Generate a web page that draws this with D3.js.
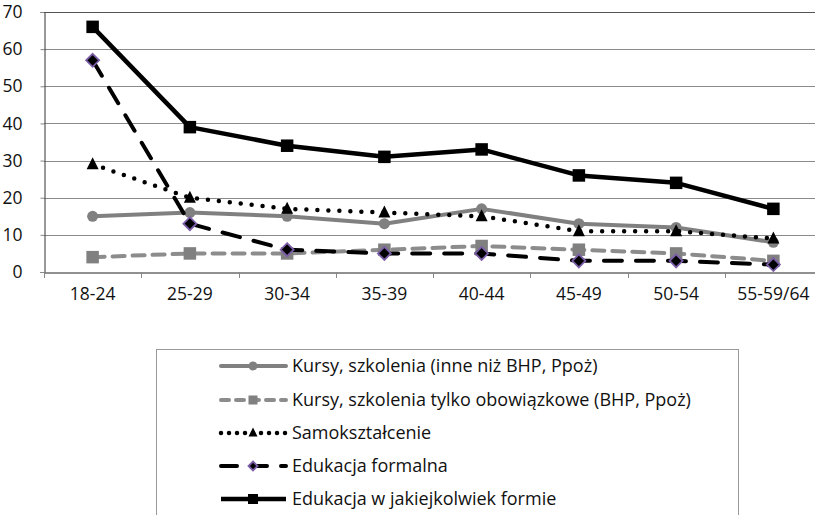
<!DOCTYPE html>
<html><head><meta charset="utf-8">
<script src="https://cdn.jsdelivr.net/npm/d3@7"></script>
<style>body{margin:0;background:#fff}svg{display:block;font-family:"Open Sans",sans-serif}</style>
</head><body>
<script>
const categories = ["18-24","25-29","30-34","35-39","40-44","45-49","50-54","55-59/64"];
const yTicks = [0,10,20,30,40,50,60,70];
const kursyInne = [15,16,15,13,17,13,12,8];
const kursyObow = [4,5,5,6,7,6,5,3];
const samoksztalcenie = [29,20,17,16,15,11,11,9];
const edukacjaFormalna = [57,13,6,5,5,3,3,2];
const edukacjaDowolna = [66,39,34,31,33,26,24,17];
const seriesNames = ["Kursy, szkolenia (inne niż BHP, Ppoż)","Kursy, szkolenia tylko obowiązkowe (BHP, Ppoż)","Samokształcenie","Edukacja formalna","Edukacja w jakiejkolwiek formie"];

(function(){
const series = [
  {name:seriesNames[0], values:kursyInne, color:"#808080", width:4, dash:null, cap:"round", marker:"circle", msize:5.5, lsize:4.5, mfill:"#808080", mstroke:"none", ldash:null},
  {name:seriesNames[1], values:kursyObow, color:"#8c8c8c", width:4, dash:"12,8", cap:"round", marker:"square", msize:12.5, lsize:9, mfill:"#808080", mstroke:"none", ldash:"8,7"},
  {name:seriesNames[2], values:samoksztalcenie, color:"#000", width:4.5, dash:"0,11", cap:"round", marker:"triangle", msize:12, lsize:9, mfill:"#000", mstroke:"none", ldash:"0,8"},
  {name:seriesNames[3], values:edukacjaFormalna, color:"#000", width:4, dash:"18,14", cap:"round", marker:"diamond", msize:6.5, lsize:4.5, mfill:"#000", mstroke:"#7b5ea7", ldash:"16,14"},
  {name:seriesNames[4], values:edukacjaDowolna, color:"#000", width:4.5, dash:null, cap:"butt", marker:"square", msize:12.5, lsize:10, mfill:"#000", mstroke:"none", ldash:null}
];

const W=815,H=515;
const svg=d3.select("body").append("svg").attr("width",W).attr("height",H);
const mLeft=44, mRight=822, mTop=12, mBottom=272;
const x=d3.scaleBand().domain(categories).range([mLeft,mRight]);
const y=d3.scaleLinear().domain([0,70]).range([mBottom,mTop]);

const axisFs=17.5, legFs=18;

svg.append("g").selectAll("line").data(yTicks.filter(d=>d>0)).join("line")
  .attr("x1",mLeft).attr("x2",mRight).attr("y1",d=>Math.round(y(d))+0.5).attr("y2",d=>Math.round(y(d))+0.5)
  .attr("stroke",d=>d===70?"#555":"#8a8a8a").attr("stroke-width",1);

const ya=svg.append("g").attr("transform",`translate(${mLeft+0.5},0)`)
  .call(d3.axisLeft(y).tickValues(yTicks).tickSize(4).tickPadding(18));
ya.select(".domain").attr("stroke","#333");
ya.selectAll(".tick line").attr("stroke","#888");
ya.selectAll("text").attr("font-size",axisFs).attr("fill","#111").attr("font-family","Open Sans");

const xa=svg.append("g").attr("transform",`translate(0,${mBottom+0.5})`)
  .call(d3.axisBottom(x).tickSize(0).tickPadding(15));
xa.select(".domain").attr("stroke","#222");
xa.selectAll("text").attr("font-size",axisFs).attr("fill","#111").attr("font-family","Open Sans");
svg.append("g").selectAll("line").data(categories.map(c=>x(c)).concat([mRight])).join("line")
  .attr("x1",d=>Math.round(d)+0.5).attr("x2",d=>Math.round(d)+0.5).attr("y1",mBottom).attr("y2",mBottom+6)
  .attr("stroke","#888");

const cx=c=>x(c)+x.bandwidth()/2;
const line=d3.line().x((d,i)=>cx(categories[i])).y(d=>y(d));

function marker(g,s,px,py,m){
  if(s.marker==="circle") g.append("circle").attr("cx",px).attr("cy",py).attr("r",m).attr("fill",s.mfill);
  else if(s.marker==="square") g.append("rect").attr("x",px-m/2).attr("y",py-m/2).attr("width",m).attr("height",m).attr("fill",s.mfill);
  else if(s.marker==="triangle") g.append("path").attr("d",`M${px},${py-m/2-1}L${px+m/2},${py+m/2-1}L${px-m/2},${py+m/2-1}Z`).attr("fill",s.mfill);
  else if(s.marker==="diamond") g.append("path").attr("d",`M${px},${py-m}L${px+m},${py}L${px},${py+m}L${px-m},${py}Z`).attr("fill",s.mfill).attr("stroke",s.mstroke).attr("stroke-width",1.8);
}

series.forEach(s=>{
  const g=svg.append("g");
  g.append("path").datum(s.values).attr("d",line).attr("fill","none")
    .attr("stroke",s.color).attr("stroke-width",s.width).attr("stroke-dasharray",s.dash)
    .attr("stroke-linecap",s.cap).attr("stroke-linejoin","round");
  s.values.forEach((v,i)=>marker(g,s,cx(categories[i]),y(v),s.msize));
});

const lg=svg.append("g");
lg.append("rect").attr("x",156.5).attr("y",349.5).attr("width",582).attr("height",170).attr("fill","#fff").attr("stroke","#999");
const rowY=[366,400,433,466,499];
series.forEach((s,i)=>{
  const g=lg.append("g");
  const yy=rowY[i];
  g.append("line").attr("x1",221).attr("x2",286).attr("y1",yy).attr("y2",yy)
    .attr("stroke",s.color).attr("stroke-width",s.width).attr("stroke-dasharray",s.ldash).attr("stroke-linecap",s.cap);
  marker(g,s,253,yy,s.lsize);
  g.append("text").attr("x",292).attr("y",yy).attr("dy","0.35em").attr("font-size",legFs).attr("fill","#111").text(s.name);
});
})();
</script>
</body></html>
